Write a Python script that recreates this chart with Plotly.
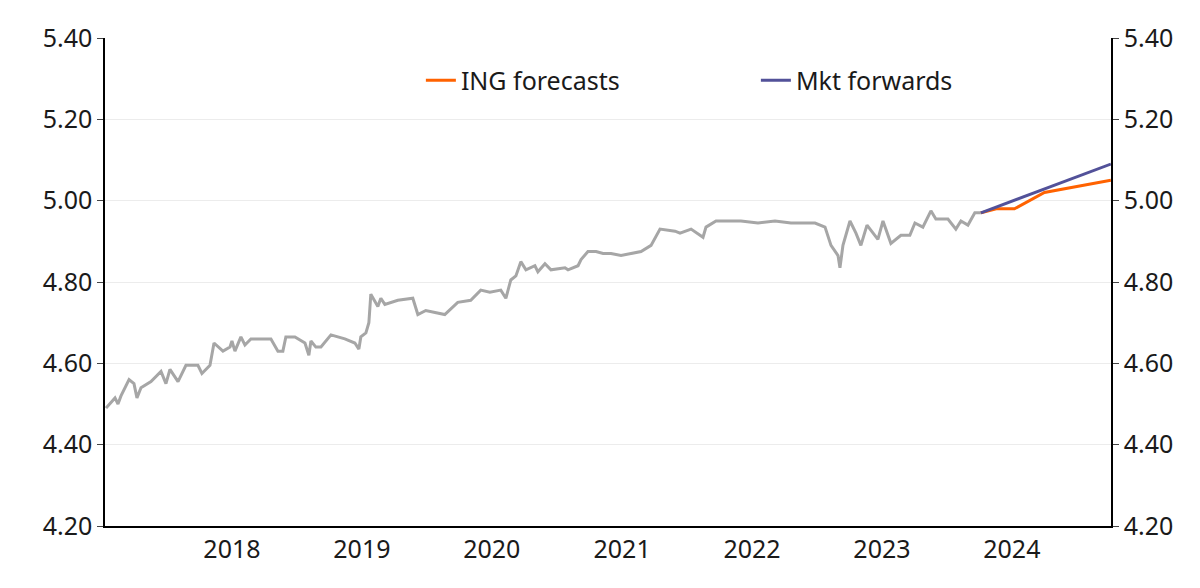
import pandas as pd
import plotly.graph_objects as go

# weekly-ish history, decimal years
hist_t = [2017.031, 2017.100, 2017.123, 2017.146, 2017.208, 2017.246, 2017.269, 2017.300, 2017.377, 2017.454,
          2017.492, 2017.523, 2017.585, 2017.646, 2017.738, 2017.769, 2017.831, 2017.862, 2017.931, 2017.985,
          2018.000, 2018.023, 2018.069, 2018.100, 2018.146, 2018.300, 2018.354, 2018.392, 2018.415, 2018.485,
          2018.562, 2018.592, 2018.608, 2018.646, 2018.685, 2018.762, 2018.869, 2018.946, 2018.977, 2018.992,
          2019.031, 2019.054, 2019.069, 2019.123, 2019.146, 2019.177, 2019.277, 2019.392, 2019.431, 2019.492,
          2019.638, 2019.738, 2019.838, 2019.915, 2019.985, 2020.069, 2020.108, 2020.146, 2020.185, 2020.223,
          2020.262, 2020.331, 2020.354, 2020.408, 2020.454, 2020.562, 2020.585, 2020.662, 2020.685, 2020.738,
          2020.800, 2020.854, 2020.915, 2020.992, 2021.146, 2021.223, 2021.292, 2021.408, 2021.446, 2021.531,
          2021.623, 2021.646, 2021.723, 2021.915, 2022.046, 2022.177, 2022.300, 2022.485, 2022.562, 2022.608,
          2022.662, 2022.677, 2022.700, 2022.754, 2022.800, 2022.838, 2022.885, 2022.969, 2023.008, 2023.069,
          2023.146, 2023.215, 2023.254, 2023.315, 2023.377, 2023.415, 2023.508, 2023.569, 2023.608, 2023.662,
          2023.715, 2023.762]
hist_v = [4.49, 4.515, 4.50, 4.52, 4.56, 4.55, 4.515, 4.54, 4.555, 4.58,
          4.55, 4.585, 4.555, 4.595, 4.595, 4.575, 4.595, 4.65, 4.63, 4.64,
          4.655, 4.63, 4.665, 4.645, 4.66, 4.66, 4.63, 4.63, 4.665, 4.665,
          4.65, 4.62, 4.655, 4.64, 4.64, 4.67, 4.66, 4.65, 4.635, 4.665,
          4.675, 4.70, 4.77, 4.74, 4.76, 4.745, 4.755, 4.76, 4.72, 4.73,
          4.72, 4.75, 4.755, 4.78, 4.775, 4.78, 4.76, 4.805, 4.815, 4.85,
          4.83, 4.84, 4.825, 4.845, 4.83, 4.835, 4.83, 4.84, 4.855, 4.875,
          4.875, 4.87, 4.87, 4.865, 4.875, 4.89, 4.93, 4.925, 4.92, 4.93,
          4.91, 4.935, 4.95, 4.95, 4.945, 4.95, 4.945, 4.945, 4.935, 4.89,
          4.865, 4.835, 4.89, 4.95, 4.92, 4.89, 4.94, 4.905, 4.95, 4.895,
          4.915, 4.915, 4.945, 4.935, 4.975, 4.955, 4.955, 4.93, 4.95, 4.94,
          4.97, 4.97]

ing_t = [2023.762, 2023.88, 2024.02, 2024.25, 2024.76]
ing_v = [4.97, 4.98, 4.98, 5.02, 5.05]

fwd_t = [2023.762, 2024.76]
fwd_v = [4.97, 5.09]

x_range = [2017.023, 2024.761]
y_ticks = [4.2, 4.4, 4.6, 4.8, 5.0, 5.2, 5.4]


def to_date(years):
    out = []
    for y in years:
        yr = int(y)
        start = pd.Timestamp(year=yr, month=1, day=1)
        end = pd.Timestamp(year=yr + 1, month=1, day=1)
        out.append(start + (end - start) * (y - yr))
    return out


fig = go.Figure()
fig.add_trace(go.Scatter(x=to_date(hist_t), y=hist_v, mode="lines",
                         line=dict(color="#a6a6a6", width=3), showlegend=False))
fig.add_trace(go.Scatter(x=to_date(ing_t), y=ing_v, mode="lines", name="ING forecasts",
                         line=dict(color="#ff6200", width=3)))
fig.add_trace(go.Scatter(x=to_date(fwd_t), y=fwd_v, mode="lines", name="Mkt forwards",
                         line=dict(color="#525199", width=3)))
# invisible trace to drive the right axis
fig.add_trace(go.Scatter(x=to_date(fwd_t), y=fwd_v, yaxis="y2", mode="lines",
                         line=dict(width=0), showlegend=False, hoverinfo="skip"))

fig.update_layout(
    width=1200, height=588,
    margin=dict(l=97, r=97, t=30, b=70, autoexpand=False),
    plot_bgcolor="white", paper_bgcolor="white",
    font=dict(family="Noto Sans", size=25, color="#1a1a1a"),
    xaxis=dict(range=to_date(x_range), showgrid=False, showline=True, linecolor="black",
               linewidth=1.5, dtick="M12", tickformat="%Y", ticks="", automargin=False),
    yaxis=dict(range=[4.2, 5.4], tickvals=y_ticks, tickformat=".2f", showgrid=True,
               gridcolor="#ececec", showline=True, linecolor="black", linewidth=1.5,
               ticks="outside", ticklen=6, zeroline=False, automargin=False),
    yaxis2=dict(range=[4.2, 5.4], tickvals=y_ticks, tickformat=".2f", overlaying="y",
                side="right", showgrid=False, showline=True, linecolor="black", linewidth=1.5,
                ticks="outside", ticklen=6, zeroline=False, automargin=False),
    legend=dict(orientation="h", x=0.98, xanchor="right", y=0.96, yanchor="top",
                font=dict(size=25), entrywidth=290, entrywidthmode="pixels",
                bgcolor="rgba(0,0,0,0)"),
)

fig.write_html("out.html")
